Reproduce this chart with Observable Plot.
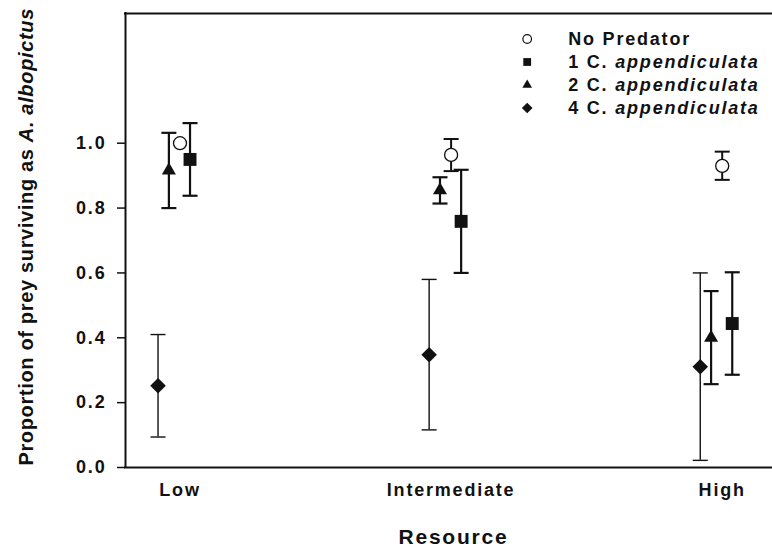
<!DOCTYPE html>
<html><head><meta charset="utf-8">
<script src="https://cdn.jsdelivr.net/npm/d3@7"></script>
<script src="https://cdn.jsdelivr.net/npm/@observablehq/plot@0.6"></script>
<style>
body{margin:0;background:#fff}
svg text{letter-spacing:1.8px}
</style></head><body><div id="chart"></div>
<script>
// ---- data ----
const categories = ["Low", "Intermediate", "High"];
const categoryX = [1, 2, 3];
const seriesNames = ["No Predator", "1 C. appendiculata", "2 C. appendiculata", "4 C. appendiculata"];
const seriesSymbols = ["circle", "square", "triangle2", "diamond2"];
const seriesOffset = [0, 0.037, -0.041, -0.081];

const noPredMean = [1.000, 0.964, 0.930];
const noPredLow  = [null, 0.914, 0.887];
const noPredHigh = [null, 1.013, 0.974];

const onePredMean = [0.950, 0.759, 0.444];
const onePredLow  = [0.838, 0.600, 0.286];
const onePredHigh = [1.062, 0.918, 0.602];

const twoPredMean = [0.916, 0.855, 0.400];
const twoPredLow  = [0.800, 0.814, 0.257];
const twoPredHigh = [1.032, 0.895, 0.544];

const fourPredMean = [0.252, 0.348, 0.311];
const fourPredLow  = [0.094, 0.116, 0.022];
const fourPredHigh = [0.410, 0.580, 0.600];

const yTicks = [0, 0.2, 0.4, 0.6, 0.8, 1.0];
const yLabel = "Proportion of prey surviving as A. albopictus";
const xLabel = "Resource";
const italicWords = ["A.", "albopictus", "appendiculata"];

// ---- styling / layout ----
const means = [noPredMean, onePredMean, twoPredMean, fourPredMean];
const lows = [noPredLow, onePredLow, twoPredLow, fourPredLow];
const highs = [noPredHigh, onePredHigh, twoPredHigh, fourPredHigh];
const markerR = [6.5, 7.3, 6.7, 7];
const legendR = [4.3, 4.4, 4.6, 4.8];
const barWidth = [2, 2.2, 2.2, 1.4];
const xDomain = [0.799, 3.1855];
const yDomain = [0, 1.4];
const ink = "#111";

const capSymbol = {draw(ctx) { ctx.moveTo(-7.5, 0); ctx.lineTo(7.5, 0); }};

const marks = [];
// frame lines (top, left, bottom)
marks.push(Plot.ruleY([yDomain[0], yDomain[1]], {stroke: ink, strokeWidth: 2, strokeLinecap: "square"}));
marks.push(Plot.ruleX([xDomain[0]], {stroke: ink, strokeWidth: 2, strokeLinecap: "square"}));

// error bars then markers
seriesNames.forEach((name, s) => {
  const rows = categories.map((c, i) => ({
    x: categoryX[i] + seriesOffset[s], mean: means[s][i], lo: lows[s][i], hi: highs[s][i]
  }));
  marks.push(Plot.ruleX(rows, {x: "x", y1: "lo", y2: "hi", stroke: ink, strokeWidth: barWidth[s]}));
  marks.push(Plot.dot(rows, {x: "x", y: "lo", symbol: capSymbol, stroke: ink, strokeWidth: barWidth[s]}));
  marks.push(Plot.dot(rows, {x: "x", y: "hi", symbol: capSymbol, stroke: ink, strokeWidth: barWidth[s]}));
});
seriesNames.forEach((name, s) => {
  const rows = categories.map((c, i) => ({x: categoryX[i] + seriesOffset[s], mean: means[s][i]}));
  const open = s === 0;
  marks.push(Plot.dot(rows, {
    x: "x", y: "mean", symbol: seriesSymbols[s], r: markerR[s],
    fill: open ? "white" : ink, stroke: ink, strokeWidth: open ? 1.3 : 0
  }));
});

// legend
seriesNames.forEach((name, s) => {
  const dy = 25.5 + s * 23;
  const open = s === 0;
  marks.push(Plot.dot([name], {
    frameAnchor: "top-left", dx: 401.7, dy, symbol: seriesSymbols[s], r: legendR[s],
    fill: open ? "white" : ink, stroke: ink, strokeWidth: open ? 1.2 : 0
  }));
  marks.push(Plot.text([name], {
    frameAnchor: "top-left", dx: 442.7, dy, text: d => d, textAnchor: "start", lineAnchor: "middle",
    fontSize: 18, fontWeight: "bold", fill: ink
  }));
});

// axes
marks.push(Plot.axisY({
  ticks: yTicks, tickFormat: d3.format(".1f"), tickSize: 8, tickPadding: 11,
  fontSize: 18, fontWeight: "bold", stroke: ink, strokeWidth: 1.5, fill: ink, label: null
}));
marks.push(Plot.axisX({
  ticks: categoryX, tickFormat: d => categories[categoryX.indexOf(d)], tickSize: 0, tickPadding: 16,
  fontSize: 18, fontWeight: "bold", fill: ink, label: null
}));
marks.push(Plot.text([yLabel], {
  frameAnchor: "left", rotate: -90, dx: -93, dy: -3.7, lineAnchor: "bottom", textAnchor: "middle",
  text: d => d, fontSize: 20, fontWeight: "bold", fill: ink
}));
marks.push(Plot.text([xLabel], {
  frameAnchor: "bottom", lineAnchor: "bottom", textAnchor: "middle", dx: 4.5, dy: 76, text: d => d,
  fontSize: 21, fontWeight: "bold", fill: ink
}));

const chart = Plot.plot({
  width: 772, height: 551,
  marginLeft: 125, marginRight: 0, marginTop: 13, marginBottom: 84,
  style: {fontFamily: "'Liberation Sans', Arial, sans-serif", background: "white"},
  x: {domain: xDomain, axis: null},
  y: {domain: yDomain, axis: null},
  marks
});

// italicise species names
d3.select(chart).selectAll("text").each(function() {
  const t = this.textContent;
  if (!italicWords.some(w => t.split(" ").includes(w))) return;
  const words = t.split(" ");
  const sel = d3.select(this);
  if (t === yLabel) sel.style("letter-spacing", "0.66px");
  sel.text(null);
  words.forEach((w, k) => {
    sel.append("tspan")
      .attr("font-style", italicWords.includes(w) ? "italic" : "normal")
      .text(w + (k < words.length - 1 ? " " : ""));
  });
});

document.getElementById("chart").appendChild(chart);
</script>
</body></html>
